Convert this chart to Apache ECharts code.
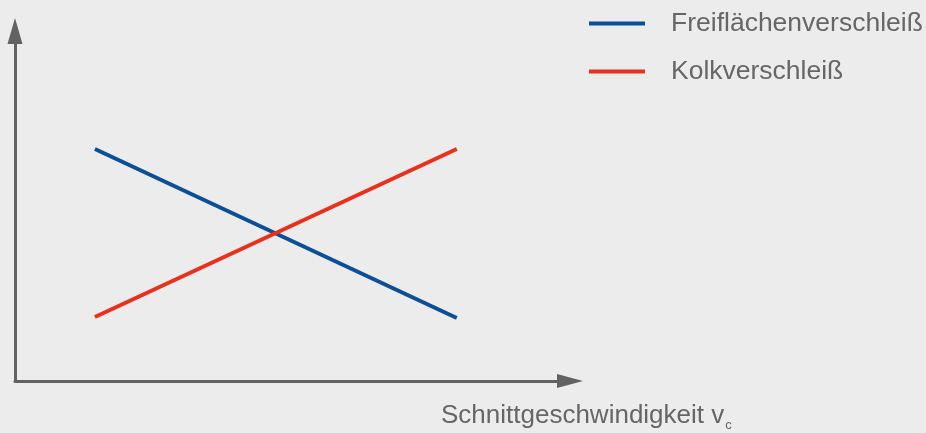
<!DOCTYPE html>
<html>
<head>
<meta charset="utf-8">
<script src="https://cdn.jsdelivr.net/npm/echarts@6/dist/echarts.min.js"></script>
<style>
    html, body {margin: 0; padding: 0; background: #ececec;}
    #chart {width: 926px; height: 433px;}
</style>
</head>
<body>
<div id="chart"></div>
<script>
    // Schnittgeschwindigkeit (relative), Verschleiß (relative)
    var speeds = [14.4, 79.6];
    var flankWear = [66.3, 18.0];
    var craterWear = [18.3, 66.3];
    var seriesNames = ['Freiflächenverschleiß', 'Kolkverschleiß'];

    var axisColor = '#626262';
    var textColor = '#666666';
    var font = 'Liberation Sans, Arial, sans-serif';

    var myChart = echarts.init(document.getElementById('chart'));
    var option = {
        backgroundColor: '#ececec',
        animation: false,
        grid: {left: 15, right: 356, top: 31, bottom: 52},
        legend: {
            orient: 'vertical',
            left: 589,
            top: 10,
            padding: 0,
            itemWidth: 56,
            itemHeight: 4,
            itemGap: 21,
            icon: 'rect',
            data: seriesNames,
            textStyle: {
                color: textColor,
                fontSize: 26.5,
                lineHeight: 26,
                fontFamily: font,
                padding: [0, 0, 0, 21]
            }
        },
        xAxis: {
            type: 'value',
            min: 0,
            max: 100,
            axisLine: {
                show: true,
                symbol: ['none', 'triangle'],
                symbolSize: [14, 26],
                lineStyle: {color: axisColor, width: 3}
            },
            axisTick: {show: false},
            axisLabel: {show: false},
            splitLine: {show: false}
        },
        yAxis: {
            type: 'value',
            min: 0,
            max: 100,
            axisLine: {
                show: true,
                symbol: ['none', 'triangle'],
                symbolSize: [15, 26],
                lineStyle: {color: axisColor, width: 3}
            },
            axisTick: {show: false},
            axisLabel: {show: false},
            splitLine: {show: false}
        },
        graphic: [{
            type: 'text',
            left: 441,
            top: 403,
            style: {
                text: '{a|Schnittgeschwindigkeit v}{b|c}',
                rich: {
                    a: {fontSize: 26, fill: textColor, fontFamily: font},
                    b: {fontSize: 13, fill: textColor, fontFamily: font, padding: [18, 0, 0, 1]}
                }
            }
        }],
        series: [
            {
                name: seriesNames[0],
                type: 'line',
                data: speeds.map(function (x, i) { return [x, flankWear[i]]; }),
                showSymbol: false,
                lineStyle: {color: '#0b4f97', width: 4},
                itemStyle: {color: '#0b4f97'}
            },
            {
                name: seriesNames[1],
                type: 'line',
                data: speeds.map(function (x, i) { return [x, craterWear[i]]; }),
                showSymbol: false,
                lineStyle: {color: '#e8301c', width: 4},
                itemStyle: {color: '#e8301c'}
            }
        ]
    };
    myChart.setOption(option);
</script>
</body>
</html>
